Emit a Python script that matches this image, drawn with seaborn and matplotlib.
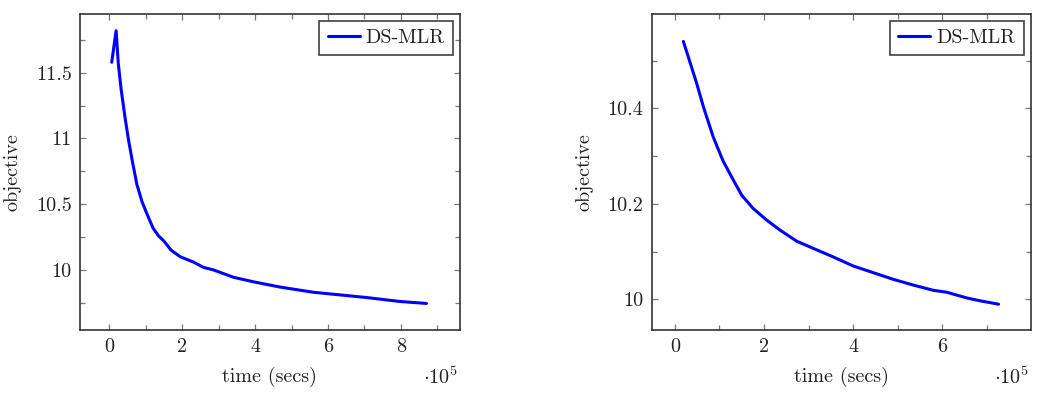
import numpy as np
import pandas as pd
import matplotlib
matplotlib.use("Agg")
import matplotlib.pyplot as plt
from matplotlib.ticker import MultipleLocator, StrMethodFormatter
import seaborn as sns

# Data (time in units of 1e5 secs)
left_time = [0.07, 0.19, 0.25, 0.33, 0.44, 0.53, 0.64, 0.76, 0.90, 1.03, 1.20, 1.35,
             1.50, 1.70, 1.95, 2.13, 2.31, 2.58, 2.86, 3.41, 3.95, 4.68, 5.60, 6.15,
             7.06, 7.97, 8.70]
left_obj = [11.58, 11.82, 11.57, 11.37, 11.15, 10.99, 10.82, 10.65, 10.52, 10.43, 10.32,
            10.26, 10.22, 10.15, 10.10, 10.08, 10.06, 10.02, 10.00, 9.944, 9.91, 9.87,
            9.83, 9.815, 9.79, 9.76, 9.745]

right_time = [0.19, 0.30, 0.49, 0.64, 0.86, 1.08, 1.31, 1.50, 1.76, 2.06, 2.36, 2.73,
              3.10, 3.55, 4.00, 4.45, 4.90, 5.35, 5.80, 6.10, 6.55, 6.85, 7.26]
right_obj = [10.54, 10.508, 10.452, 10.403, 10.34, 10.29, 10.25, 10.218, 10.19, 10.166,
             10.145, 10.122, 10.107, 10.089, 10.07, 10.056, 10.042, 10.03, 10.019,
             10.015, 10.003, 9.997, 9.99]

series_name = "DS-MLR"

sns.set_style("ticks")
plt.rcParams['font.family'] = ['cmr10', 'DejaVu Serif']
plt.rcParams['mathtext.fontset'] = 'cm'
plt.rcParams['axes.formatter.use_mathtext'] = True
plt.rcParams['font.size'] = 14.5

fig = plt.figure(figsize=(10.51, 4.01), dpi=100)
W, H = 1051, 401

def make_axes(x0, x1, y0, y1):
    return fig.add_axes([x0 / W, 1 - y1 / H, (x1 - x0) / W, (y1 - y0) / H])

ax1 = make_axes(80, 460, 14, 330)
ax2 = make_axes(651.7, 1030.7, 14, 330)

panels = [
    (ax1, left_time, left_obj, (-0.8, 9.62), (9.543, 11.947), 2, 1, 0.5, 0.25),
    (ax2, right_time, right_obj, (-0.52, 7.98), (9.936, 10.5975), 2, 1, 0.2, 0.1),
]

for ax, t, obj, xl, yl, xmaj, xmin, ymaj, ymin in panels:
    df = pd.DataFrame({"time": t, "objective": obj, "method": series_name})
    sns.lineplot(data=df, x="time", y="objective", hue="method", palette=["#0000ff"],
                 linewidth=2.2, ax=ax, sort=False, estimator=None)
    ax.set_xlim(*xl)
    ax.set_ylim(*yl)
    ax.xaxis.set_major_locator(MultipleLocator(xmaj))
    ax.xaxis.set_minor_locator(MultipleLocator(xmin))
    ax.yaxis.set_major_locator(MultipleLocator(ymaj))
    ax.yaxis.set_minor_locator(MultipleLocator(ymin))
    ax.xaxis.set_major_formatter(StrMethodFormatter('{x:g}'))
    ax.yaxis.set_major_formatter(StrMethodFormatter('{x:g}'))
    ax.tick_params(which='both', direction='in', top=True, right=True,
                   color='#777777', width=0.9, labelsize=14.5, labelcolor='#222222')
    ax.tick_params(which='major', length=4.5, pad=6)
    ax.tick_params(which='minor', length=3.5)
    for s in ax.spines.values():
        s.set_color('#333333')
        s.set_linewidth(1.2)
    ax.set_xlabel("time (secs)", fontsize=14.5, color='#222222', labelpad=8)
    ax.set_ylabel("objective", fontsize=14.5, color='#222222', labelpad=10)
    leg = ax.legend(loc='upper right', fontsize=14.5, frameon=True, fancybox=False,
                    handlelength=1.6, handletextpad=0.3, borderpad=0.4,
                    borderaxespad=0.35)
    leg.get_frame().set_edgecolor('#111111')
    leg.get_frame().set_linewidth(1.2)
    for txt in leg.get_texts():
        txt.set_color('#222222')

fig.text(440 / W, 1 - 377 / H, r'$\cdot 10^{5}$', ha='center', va='center',
         fontsize=14.5, color='#222222')
fig.text(1011 / W, 1 - 377 / H, r'$\cdot 10^{5}$', ha='center', va='center',
         fontsize=14.5, color='#222222')

fig.savefig("out.png", dpi=100)
